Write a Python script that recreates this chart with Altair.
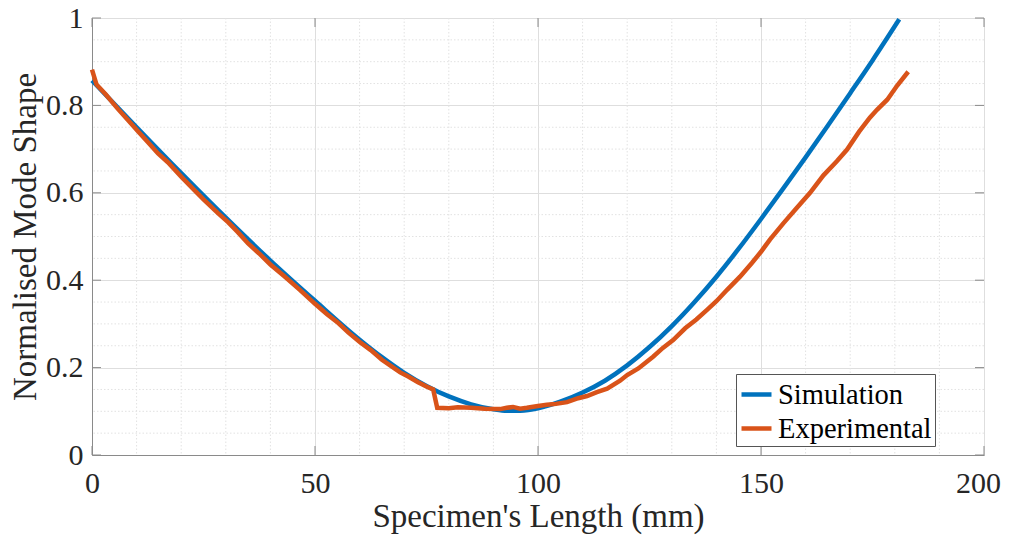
import altair as alt
import pandas as pd

# ---------------- data ----------------
series_names = ["Simulation", "Experimental"]
series_colors = ["#0072BD", "#D95319"]

sim_x = [0, 10, 20, 30, 40, 50, 60, 65, 70, 75, 80, 85, 90, 93, 96, 100,
         105, 110, 115, 120, 125, 130, 135, 140, 145, 150, 155, 160, 165,
         170, 175, 181]
sim_y = [0.857, 0.750, 0.645, 0.543, 0.445, 0.353, 0.264, 0.224, 0.188,
         0.158, 0.134, 0.116, 0.1045, 0.101, 0.1015, 0.107, 0.122, 0.143,
         0.170, 0.205, 0.247, 0.295, 0.349, 0.408, 0.472, 0.540, 0.610,
         0.681, 0.754, 0.828, 0.903, 0.997]

exp_x = [0, 1, 3, 5.8, 8, 10.3, 12.5, 14.8, 17, 20, 22.4, 25, 28.3, 30.5,
         32.7, 35, 37.7, 40, 43, 46.6, 50, 52.7, 55, 57.5, 60.1, 62.5, 65,
         67, 69.1, 71, 73, 75.1, 76.5, 77.4, 80, 82, 85, 88, 91.5, 93, 94.4,
         96, 97.5, 100, 102, 104, 106.5, 109, 111, 113.2, 115.5, 118.4, 120,
         122.5, 125.8, 128, 130.3, 133, 135.5, 137.9, 140, 142.4, 145.3, 148,
         150, 152, 155, 158, 161, 164, 167, 169.3, 172, 174.4, 176, 178.3,
         180.5, 183]
exp_y = [0.882, 0.848, 0.826, 0.792, 0.767, 0.741, 0.716, 0.690, 0.670,
         0.637, 0.612, 0.585, 0.553, 0.533, 0.510, 0.484, 0.459, 0.436,
         0.410, 0.378, 0.346, 0.322, 0.304, 0.280, 0.258, 0.240, 0.218,
         0.204, 0.189, 0.179, 0.167, 0.156, 0.150, 0.108, 0.107, 0.109,
         0.108, 0.106, 0.105, 0.108, 0.110, 0.106, 0.108, 0.112, 0.115,
         0.117, 0.121, 0.130, 0.135, 0.144, 0.152, 0.170, 0.183, 0.198,
         0.225, 0.245, 0.263, 0.290, 0.310, 0.332, 0.352, 0.378, 0.408,
         0.440, 0.465, 0.493, 0.530, 0.565, 0.600, 0.640, 0.672, 0.699,
         0.740, 0.772, 0.790, 0.813, 0.845, 0.877]

x_major = [0, 50, 100, 150, 200]
y_major = [0, 0.2, 0.4, 0.6, 0.8, 1.0]
x_minor = [10, 20, 30, 40, 60, 70, 80, 90, 110, 120, 130, 140, 160, 170, 180, 190]
y_minor = [0.05, 0.1, 0.15, 0.25, 0.3, 0.35, 0.45, 0.5, 0.55, 0.65, 0.7,
           0.75, 0.85, 0.9, 0.95]

# ---------------- layout / style ----------------
W, H = 892, 437
FONT = "Liberation Serif"
AXIS_COL = "#8a8a8a"
TXT_COL = "#262626"
TICK = 9

sim_df = pd.DataFrame({"x": sim_x, "y": sim_y, "series": series_names[0]})
exp_df = pd.DataFrame({"x": exp_x, "y": exp_y, "series": series_names[1]})

xscale = alt.Scale(domain=[0, 200], nice=False, zero=False)
yscale = alt.Scale(domain=[0, 1], nice=False, zero=False)
cscale = alt.Scale(domain=series_names, range=series_colors)

x_axis = alt.Axis(values=x_major, title="Specimen's Length (mm)", grid=True,
                  gridColor="#dedede", gridWidth=1, ticks=False,
                  labelPadding=13, labelFontSize=30, titleFontSize=33,
                  labelFont=FONT, titleFont=FONT, titleFontWeight="normal",
                  labelColor=TXT_COL, titleColor=TXT_COL, domainColor=AXIS_COL,
                  titlePadding=2, labelFlush=False, labelOverlap=False,
                  labelOffset={"condition": {"test": "datum.value == 200", "value": -6},
                               "value": 0},
                  format="d")
y_axis = alt.Axis(values=y_major, title="Normalised Mode Shape", grid=True,
                  gridColor="#dedede", gridWidth=1, ticks=False,
                  labelPadding=9, labelFontSize=30, titleFontSize=33,
                  labelFont=FONT, titleFont=FONT, titleFontWeight="normal",
                  labelColor=TXT_COL, titleColor=TXT_COL, domainColor=AXIS_COL,
                  titlePadding=3, labelFlush=False, labelOverlap=False,
                  format="~g")

X = lambda f: alt.X(f, scale=xscale, axis=x_axis)
Y = lambda f: alt.Y(f, scale=yscale, axis=y_axis)

minor_x = alt.Chart(pd.DataFrame({"v": x_minor})).mark_rule(
    color="#e2e2e2", strokeDash=[1.5, 2], strokeWidth=1
).encode(x=X("v:Q"))

minor_y = alt.Chart(pd.DataFrame({"v": y_minor})).mark_rule(
    color="#e2e2e2", strokeDash=[1.5, 2], strokeWidth=1
).encode(y=Y("v:Q"))

xt = pd.DataFrame({"v": x_major})
yt = pd.DataFrame({"v": y_major})
tick_style = dict(color=AXIS_COL, strokeWidth=1)
ticks_bottom = alt.Chart(xt).mark_rule(**tick_style).encode(
    x=X("v:Q"), y=alt.value(H - TICK), y2=alt.value(H))
ticks_top = alt.Chart(xt).mark_rule(**tick_style).encode(
    x=X("v:Q"), y=alt.value(0), y2=alt.value(TICK))
ticks_left = alt.Chart(yt).mark_rule(**tick_style).encode(
    y=Y("v:Q"), x=alt.value(0), x2=alt.value(TICK))
ticks_right = alt.Chart(yt).mark_rule(**tick_style).encode(
    y=Y("v:Q"), x=alt.value(W - TICK), x2=alt.value(W))

legend = alt.Legend(title=None, orient="none", legendX=644, legendY=356,
                    symbolType="stroke", symbolSize=900, symbolStrokeWidth=4.5,
                    labelFont=FONT, labelFontSize=28.5, labelColor="#000000",
                    labelOffset=4, rowPadding=2, padding=3,
                    strokeColor="#555555", fillColor="#ffffff",
                    labelLimit=400)

sim_line = alt.Chart(sim_df).mark_line(strokeWidth=4.5, interpolate="monotone").encode(
    x=X("x:Q"), y=Y("y:Q"),
    color=alt.Color("series:N", scale=cscale, legend=legend),
)
exp_line = alt.Chart(exp_df).mark_line(strokeWidth=4.5).encode(
    x=X("x:Q"), y=Y("y:Q"),
    color=alt.Color("series:N", scale=cscale, legend=legend),
)

chart = alt.layer(
    minor_x, minor_y, sim_line, exp_line,
    ticks_bottom, ticks_top, ticks_left, ticks_right,
).properties(
    width=W, height=H,
    autosize=alt.AutoSizeParams(type="none"),
    padding={"left": 84, "top": 10, "right": 18, "bottom": 80},
).configure_view(
    stroke=AXIS_COL, strokeWidth=1
).configure(background="#ffffff")

chart.save("out.html", embed_options={"renderer": "svg", "actions": False})
